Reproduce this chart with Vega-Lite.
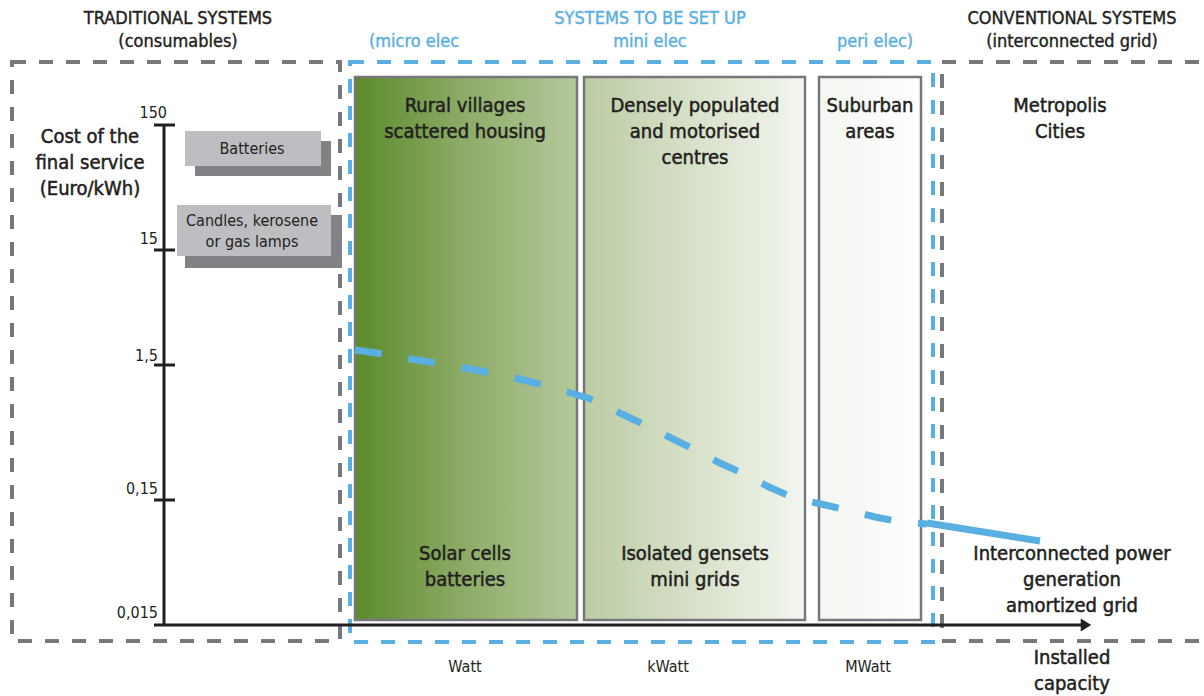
{
  "$schema": "https://vega.github.io/schema/vega-lite/v6.json",
  "width": 1204,
  "height": 696,
  "autosize": {"type": "none"},
  "padding": 0,
  "background": "white",
  "config": {
    "view": {"stroke": null},
    "text": {"font": "DejaVu Sans Condensed, sans-serif", "color": "#231f20"}
  },
  "datasets": {
    "zones": [
      {"zone": "Traditional systems", "kind": "gray", "x0": 12, "x1": 340, "y0": 62, "y1": 641},
      {"zone": "Systems to be set up", "kind": "blue", "x0": 350, "x1": 933, "y0": 62, "y1": 642},
      {"zone": "Conventional systems", "kind": "gray", "x0": 942, "x1": 1240, "y0": 62, "y1": 641}
    ],
    "areas": [
      {"area": "Rural villages", "x0": 355, "x1": 577, "y0": 77, "y1": 620},
      {"area": "Densely populated", "x0": 584, "x1": 805, "y0": 77, "y1": 620},
      {"area": "Suburban areas", "x0": 819, "x1": 921, "y0": 77, "y1": 620}
    ],
    "consumables": [
      {"item": "Batteries", "x0": 185, "x1": 321, "y0": 131, "y1": 166},
      {"item": "Candles", "x0": 177, "x1": 331, "y0": 205, "y1": 256}
    ],
    "shadows": [
      {"item": "Batteries", "x0": 195, "x1": 331, "y0": 141, "y1": 176},
      {"item": "Candles", "x0": 185, "x1": 342, "y0": 215, "y1": 268}
    ],
    "axislines": [
      {"part": "y axis", "x": 164, "x2": 164, "y": 125, "y2": 625},
      {"part": "x axis", "x": 154, "x2": 1084, "y": 625, "y2": 625},
      {"part": "tick 150", "x": 154, "x2": 175, "y": 125, "y2": 125},
      {"part": "tick 15", "x": 154, "x2": 175, "y": 250, "y2": 250},
      {"part": "tick 1,5", "x": 154, "x2": 175, "y": 365, "y2": 365},
      {"part": "tick 0,15", "x": 154, "x2": 175, "y": 500, "y2": 500}
    ],
    "arrow": [{"x": 1086, "y": 625}],
    "ticklabels": [
      {"label": "150", "x": 167, "y": 113},
      {"label": "15", "x": 158, "y": 239},
      {"label": "1,5", "x": 158, "y": 356},
      {"label": "0,15", "x": 158, "y": 489},
      {"label": "0,015", "x": 158, "y": 613}
    ],
    "curve": [
      {"x": 355, "y": 350}, {"x": 383, "y": 354}, {"x": 411, "y": 359}, {"x": 436, "y": 363},
      {"x": 465, "y": 368}, {"x": 491, "y": 373}, {"x": 519, "y": 379}, {"x": 544, "y": 385},
      {"x": 571, "y": 393}, {"x": 597, "y": 401}, {"x": 622, "y": 414}, {"x": 645, "y": 425},
      {"x": 671, "y": 438}, {"x": 695, "y": 450}, {"x": 720, "y": 463}, {"x": 744, "y": 474},
      {"x": 769, "y": 487}, {"x": 794, "y": 498}, {"x": 821, "y": 504}, {"x": 847, "y": 510},
      {"x": 875, "y": 517}, {"x": 901, "y": 522}, {"x": 927, "y": 524}
    ],
    "grid": [{"x": 927, "y": 523}, {"x": 1040, "y": 541}],
    "texts": [
      {"kind": "head", "t": "TRADITIONAL SYSTEMS\n(consumables)", "x": 178, "y": 19},
      {"kind": "head", "t": "CONVENTIONAL SYSTEMS\n(interconnected grid)", "x": 1072, "y": 19},
      {"kind": "headblue", "t": "SYSTEMS TO BE SET UP\nmini elec", "x": 650, "y": 19},
      {"kind": "headblue", "t": "(micro elec", "x": 414, "y": 42},
      {"kind": "headblue", "t": "peri elec)", "x": 875, "y": 42},
      {"kind": "body", "t": "Rural villages\nscattered housing", "x": 465, "y": 106},
      {"kind": "body", "t": "Densely populated\nand motorised\ncentres", "x": 695, "y": 106},
      {"kind": "body", "t": "Suburban\nareas", "x": 870, "y": 106},
      {"kind": "body", "t": "Metropolis\nCities", "x": 1060, "y": 106},
      {"kind": "body", "t": "Solar cells\nbatteries", "x": 465, "y": 554},
      {"kind": "body", "t": "Isolated gensets\nmini grids", "x": 695, "y": 554},
      {"kind": "body", "t": "Interconnected power\ngeneration\namortized grid", "x": 1072, "y": 554},
      {"kind": "body", "t": "Cost of the\nfinal service\n(Euro/kWh)", "x": 90, "y": 137},
      {"kind": "body", "t": "Installed\ncapacity", "x": 1072, "y": 658},
      {"kind": "box", "t": "Batteries", "x": 252, "y": 149},
      {"kind": "box", "t": "Candles, kerosene\nor gas lamps", "x": 252, "y": 221},
      {"kind": "unit", "t": "Watt", "x": 465, "y": 667},
      {"kind": "unit", "t": "kWatt", "x": 668, "y": 667},
      {"kind": "unit", "t": "MWatt", "x": 868, "y": 667}
    ]
  },
  "layer": [
    {
      "data": {"name": "zones"},
      "transform": [{"filter": "datum.kind == 'gray'"}],
      "mark": {"type": "rect", "filled": false, "color": "#77787b", "strokeWidth": 4, "strokeDash": [14, 13], "clip": true},
      "encoding": {
        "x": {"field": "x0", "type": "quantitative", "scale": {"domain": [0, 1204], "nice": false, "zero": false}, "axis": null},
        "x2": {"field": "x1"},
        "y": {"field": "y0", "type": "quantitative", "scale": {"domain": [0, 696], "reverse": true, "nice": false, "zero": false}, "axis": null},
        "y2": {"field": "y1"}
      }
    },
    {
      "data": {"name": "zones"},
      "transform": [{"filter": "datum.kind == 'blue'"}],
      "mark": {"type": "rect", "filled": false, "color": "#5aafe2", "strokeWidth": 4, "strokeDash": [14, 13]},
      "encoding": {
        "x": {"field": "x0", "type": "quantitative", "scale": {"domain": [0, 1204], "nice": false, "zero": false}, "axis": null},
        "x2": {"field": "x1"},
        "y": {"field": "y0", "type": "quantitative", "scale": {"domain": [0, 696], "reverse": true, "nice": false, "zero": false}, "axis": null},
        "y2": {"field": "y1"}
      }
    },
    {
      "data": {"name": "areas"},
      "transform": [{"filter": "datum.area == 'Rural villages'"}],
      "mark": {"type": "rect", "stroke": "#77787b", "strokeWidth": 2.5,
        "fill": {"gradient": "linear", "x1": 0, "x2": 1, "y1": 0, "y2": 0, "stops": [{"offset": 0, "color": "#5b8a2b"}, {"offset": 0.5, "color": "#8eac68"}, {"offset": 1, "color": "#b5c89b"}]}},
      "encoding": {
        "x": {"field": "x0", "type": "quantitative", "scale": {"domain": [0, 1204], "nice": false, "zero": false}, "axis": null},
        "x2": {"field": "x1"},
        "y": {"field": "y0", "type": "quantitative", "scale": {"domain": [0, 696], "reverse": true, "nice": false, "zero": false}, "axis": null},
        "y2": {"field": "y1"}
      }
    },
    {
      "data": {"name": "areas"},
      "transform": [{"filter": "datum.area == 'Densely populated'"}],
      "mark": {"type": "rect", "stroke": "#77787b", "strokeWidth": 2.5,
        "fill": {"gradient": "linear", "x1": 0, "x2": 1, "y1": 0, "y2": 0, "stops": [{"offset": 0, "color": "#bccca4"}, {"offset": 1, "color": "#f3f6ef"}]}},
      "encoding": {
        "x": {"field": "x0", "type": "quantitative", "scale": {"domain": [0, 1204], "nice": false, "zero": false}, "axis": null},
        "x2": {"field": "x1"},
        "y": {"field": "y0", "type": "quantitative", "scale": {"domain": [0, 696], "reverse": true, "nice": false, "zero": false}, "axis": null},
        "y2": {"field": "y1"}
      }
    },
    {
      "data": {"name": "areas"},
      "transform": [{"filter": "datum.area == 'Suburban areas'"}],
      "mark": {"type": "rect", "stroke": "#77787b", "strokeWidth": 2.5,
        "fill": {"gradient": "linear", "x1": 0, "x2": 1, "y1": 0, "y2": 0, "stops": [{"offset": 0, "color": "#f4f6f1"}, {"offset": 1, "color": "#fefefe"}]}},
      "encoding": {
        "x": {"field": "x0", "type": "quantitative", "scale": {"domain": [0, 1204], "nice": false, "zero": false}, "axis": null},
        "x2": {"field": "x1"},
        "y": {"field": "y0", "type": "quantitative", "scale": {"domain": [0, 696], "reverse": true, "nice": false, "zero": false}, "axis": null},
        "y2": {"field": "y1"}
      }
    },
    {
      "data": {"name": "shadows"},
      "mark": {"type": "rect", "color": "#808285"},
      "encoding": {
        "x": {"field": "x0", "type": "quantitative", "scale": {"domain": [0, 1204], "nice": false, "zero": false}, "axis": null},
        "x2": {"field": "x1"},
        "y": {"field": "y0", "type": "quantitative", "scale": {"domain": [0, 696], "reverse": true, "nice": false, "zero": false}, "axis": null},
        "y2": {"field": "y1"}
      }
    },
    {
      "data": {"name": "consumables"},
      "mark": {"type": "rect", "color": "#bdbec1"},
      "encoding": {
        "x": {"field": "x0", "type": "quantitative", "scale": {"domain": [0, 1204], "nice": false, "zero": false}, "axis": null},
        "x2": {"field": "x1"},
        "y": {"field": "y0", "type": "quantitative", "scale": {"domain": [0, 696], "reverse": true, "nice": false, "zero": false}, "axis": null},
        "y2": {"field": "y1"}
      }
    },
    {
      "data": {"name": "axislines"},
      "mark": {"type": "rule", "color": "#231f20", "strokeWidth": 3},
      "encoding": {
        "x": {"field": "x", "type": "quantitative", "scale": {"domain": [0, 1204], "nice": false, "zero": false}, "axis": null},
        "x2": {"field": "x2"},
        "y": {"field": "y", "type": "quantitative", "scale": {"domain": [0, 696], "reverse": true, "nice": false, "zero": false}, "axis": null},
        "y2": {"field": "y2"}
      }
    },
    {
      "data": {"name": "arrow"},
      "mark": {"type": "point", "shape": "M-1,-1.25L1,0L-1,1.25Z", "filled": true, "color": "#231f20", "size": 110, "opacity": 1},
      "encoding": {
        "x": {"field": "x", "type": "quantitative", "scale": {"domain": [0, 1204], "nice": false, "zero": false}, "axis": null},
        "y": {"field": "y", "type": "quantitative", "scale": {"domain": [0, 696], "reverse": true, "nice": false, "zero": false}, "axis": null}
      }
    },
    {
      "data": {"name": "curve"},
      "mark": {"type": "line", "color": "#5aafe2", "strokeWidth": 7, "strokeDash": [27, 27], "strokeCap": "butt"},
      "encoding": {
        "x": {"field": "x", "type": "quantitative", "scale": {"domain": [0, 1204], "nice": false, "zero": false}, "axis": null},
        "y": {"field": "y", "type": "quantitative", "scale": {"domain": [0, 696], "reverse": true, "nice": false, "zero": false}, "axis": null}
      }
    },
    {
      "data": {"name": "grid"},
      "mark": {"type": "line", "color": "#5aafe2", "strokeWidth": 7, "strokeCap": "butt"},
      "encoding": {
        "x": {"field": "x", "type": "quantitative", "scale": {"domain": [0, 1204], "nice": false, "zero": false}, "axis": null},
        "y": {"field": "y", "type": "quantitative", "scale": {"domain": [0, 696], "reverse": true, "nice": false, "zero": false}, "axis": null}
      }
    },
    {
      "data": {"name": "ticklabels"},
      "mark": {"type": "text", "align": "right", "baseline": "middle", "fontSize": 16},
      "encoding": {
        "x": {"field": "x", "type": "quantitative", "scale": {"domain": [0, 1204], "nice": false, "zero": false}, "axis": null},
        "y": {"field": "y", "type": "quantitative", "scale": {"domain": [0, 696], "reverse": true, "nice": false, "zero": false}, "axis": null},
        "text": {"field": "label"}
      }
    },
    {
      "data": {"name": "texts"},
      "transform": [{"filter": "datum.kind == 'head'"}],
      "mark": {"type": "text", "align": "center", "baseline": "middle", "fontSize": 18, "lineBreak": "\n", "lineHeight": 23, "stroke": "#231f20", "strokeWidth": 0.4},
      "encoding": {
        "x": {"field": "x", "type": "quantitative", "scale": {"domain": [0, 1204], "nice": false, "zero": false}, "axis": null},
        "y": {"field": "y", "type": "quantitative", "scale": {"domain": [0, 696], "reverse": true, "nice": false, "zero": false}, "axis": null},
        "text": {"field": "t"}
      }
    },
    {
      "data": {"name": "texts"},
      "transform": [{"filter": "datum.kind == 'headblue'"}],
      "mark": {"type": "text", "align": "center", "baseline": "middle", "fontSize": 18, "lineBreak": "\n", "lineHeight": 23, "color": "#5aafe2", "stroke": "#5aafe2", "strokeWidth": 0.4},
      "encoding": {
        "x": {"field": "x", "type": "quantitative", "scale": {"domain": [0, 1204], "nice": false, "zero": false}, "axis": null},
        "y": {"field": "y", "type": "quantitative", "scale": {"domain": [0, 696], "reverse": true, "nice": false, "zero": false}, "axis": null},
        "text": {"field": "t"}
      }
    },
    {
      "data": {"name": "texts"},
      "transform": [{"filter": "datum.kind == 'body'"}],
      "mark": {"type": "text", "align": "center", "baseline": "middle", "fontSize": 20, "lineBreak": "\n", "lineHeight": 26, "stroke": "#231f20", "strokeWidth": 0.5},
      "encoding": {
        "x": {"field": "x", "type": "quantitative", "scale": {"domain": [0, 1204], "nice": false, "zero": false}, "axis": null},
        "y": {"field": "y", "type": "quantitative", "scale": {"domain": [0, 696], "reverse": true, "nice": false, "zero": false}, "axis": null},
        "text": {"field": "t"}
      }
    },
    {
      "data": {"name": "texts"},
      "transform": [{"filter": "datum.kind == 'box'"}],
      "mark": {"type": "text", "align": "center", "baseline": "middle", "fontSize": 16, "lineBreak": "\n", "lineHeight": 21},
      "encoding": {
        "x": {"field": "x", "type": "quantitative", "scale": {"domain": [0, 1204], "nice": false, "zero": false}, "axis": null},
        "y": {"field": "y", "type": "quantitative", "scale": {"domain": [0, 696], "reverse": true, "nice": false, "zero": false}, "axis": null},
        "text": {"field": "t"}
      }
    },
    {
      "data": {"name": "texts"},
      "transform": [{"filter": "datum.kind == 'unit'"}],
      "mark": {"type": "text", "align": "center", "baseline": "middle", "fontSize": 16},
      "encoding": {
        "x": {"field": "x", "type": "quantitative", "scale": {"domain": [0, 1204], "nice": false, "zero": false}, "axis": null},
        "y": {"field": "y", "type": "quantitative", "scale": {"domain": [0, 696], "reverse": true, "nice": false, "zero": false}, "axis": null},
        "text": {"field": "t"}
      }
    }
  ]
}
